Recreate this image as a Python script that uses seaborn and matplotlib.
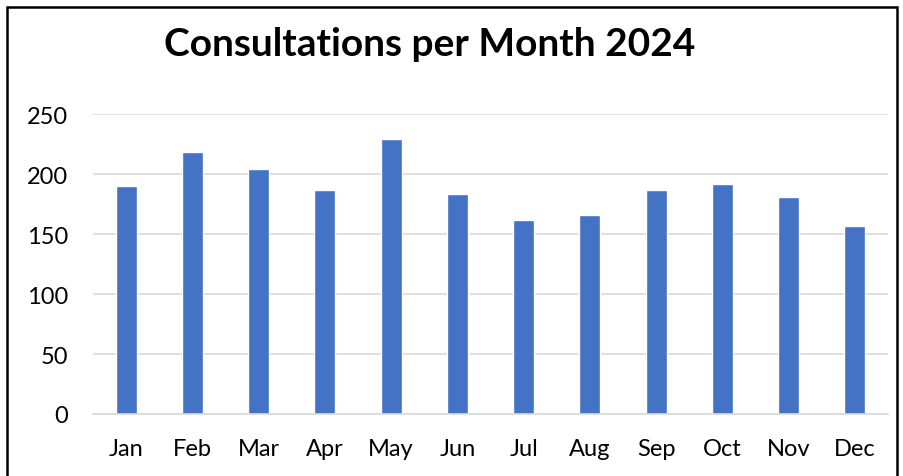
import matplotlib
matplotlib.use("Agg")
import matplotlib.pyplot as plt
import seaborn as sns
import pandas as pd
from matplotlib.patches import Rectangle

# Data
months = ["Jan", "Feb", "Mar", "Apr", "May", "Jun",
          "Jul", "Aug", "Sep", "Oct", "Nov", "Dec"]
consultations = [190, 218, 204, 187, 229, 183, 162, 166, 187, 192, 181, 157]
y_ticks = [0, 50, 100, 150, 200, 250]

df = pd.DataFrame({"month": months, "consultations": consultations})

sns.set_theme(style="white")
plt.rcParams["font.family"] = ["Lato", "DejaVu Sans"]

fig = plt.figure(figsize=(9.04, 4.77), dpi=100)
ax = fig.add_axes([93 / 904, 62 / 477, 795 / 904, 300 / 477])

sns.barplot(data=df, x="month", y="consultations", color="#4472C4",
            width=0.32, saturation=1, ax=ax)

ax.set_ylim(0, 250)
ax.set_yticks(y_ticks)
ax.yaxis.grid(True, color="#D9D9D9", linewidth=1.2)
ax.set_axisbelow(True)
for s in ["top", "right", "left"]:
    ax.spines[s].set_visible(False)
ax.spines["bottom"].set_color("#D9D9D9")
ax.spines["bottom"].set_linewidth(1.2)
ax.tick_params(axis="both", length=0, labelsize=17, labelcolor="black")
ax.tick_params(axis="y", pad=18)
ax.tick_params(axis="x", pad=17)
ax.set_xlabel("")
ax.set_ylabel("")

fig.text(430 / 904, 1 - 44 / 477, "Consultations per Month 2024",
         ha="center", va="center", fontsize=28, fontweight="bold", color="black")

# outer chart border
fig.patches.append(Rectangle((7 / 904, -0.05), 890 / 904, 1 - 8 / 477 + 0.05,
                             transform=fig.transFigure, fill=False,
                             edgecolor="black", linewidth=1.8))

fig.savefig("out.png", dpi=100)
